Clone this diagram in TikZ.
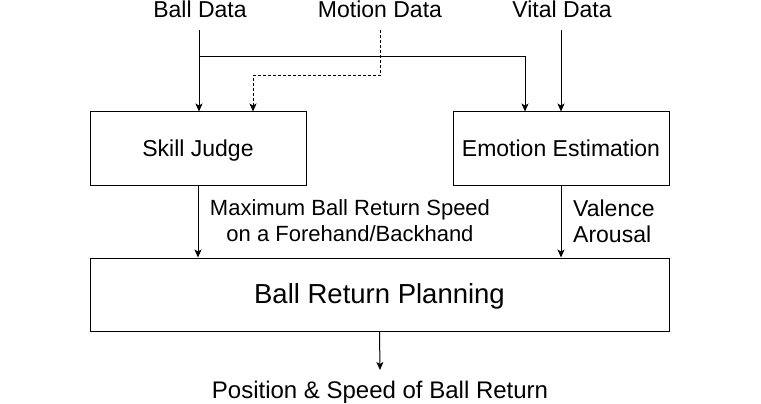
\documentclass[tikz,border=0pt]{standalone}
\usepackage{fontspec}
\setmainfont{Liberation Sans}
\usetikzlibrary{arrows.meta,positioning}

\tikzset{
	block/.style = {draw, line width=1pt, inner sep=0pt, minimum width=216pt, minimum height=73pt, text depth=1pt, font=\fontsize{23}{26}\selectfont},
	bigblock/.style = {block, minimum width=579pt, font=\fontsize{27.5}{30}\selectfont},
	txt/.style = {inner sep=0pt, font=\fontsize{23}{26}\selectfont},
	flow/.style = {line width=1pt, -{Stealth[length=8pt,width=7pt,inset=2pt]}}
}

\begin{document}
\begin{tikzpicture}[x=1pt,y=-1pt]
	\useasboundingbox (0,0) rectangle (761,404);
	
	%the three inputs
	\node[txt, anchor=base] (ball) at (200,18) {Ball Data};
	\node[txt, anchor=base] (motion) at (380,18) {Motion Data};
	\node[txt, anchor=base] (vital) at (562,18) {Vital Data};
	\coordinate (ballout) at (199,30);
	\coordinate (motionout) at (380,30);
	\coordinate (vitalout) at (561,30);
	
	%the blocks
	\node[block] (skill) at (198,148.5) {Skill Judge};
	\node[block] (emotion) at (561,148.5) {Emotion Estimation};
	\node[bigblock] (plan) at (379.5,294.5) {Ball Return Planning};
	
	%inputs into the blocks
	\draw[flow] (ballout) -- (ballout |- skill.north);
	\coordinate (split) at (199,57);
	\draw[flow] (split) -| ([xshift=-36pt]emotion.north);
	\draw[flow, dashed, dash pattern=on 3pt off 2pt] (motionout) -- (380,75.5) -| ([xshift=55pt]skill.north);
	\draw[flow] (vitalout) -- (vitalout |- emotion.north);
	
	%outputs of the blocks
	\draw[flow] (skill.south) -- (skill.south |- plan.north);
	\draw[flow] (emotion.south) -- (emotion.south |- plan.north);
	\node[txt, align=center, font=\fontsize{22}{26}\selectfont] (speedlabel) at (350,221) {Maximum Ball Return Speed\\on a Forehand/Backhand};
	\node[txt, align=left, anchor=west] (emolabel) at (573,221) {Valence\\Arousal};
	
	%final output
	\coordinate (planout) at (380,370);
	\draw[flow] (plan.south) -- (planout);
	\node[txt, anchor=base, font=\fontsize{24}{26}\selectfont] (result) at (380,398) {Position \& Speed of Ball Return};
\end{tikzpicture}
\end{document}
